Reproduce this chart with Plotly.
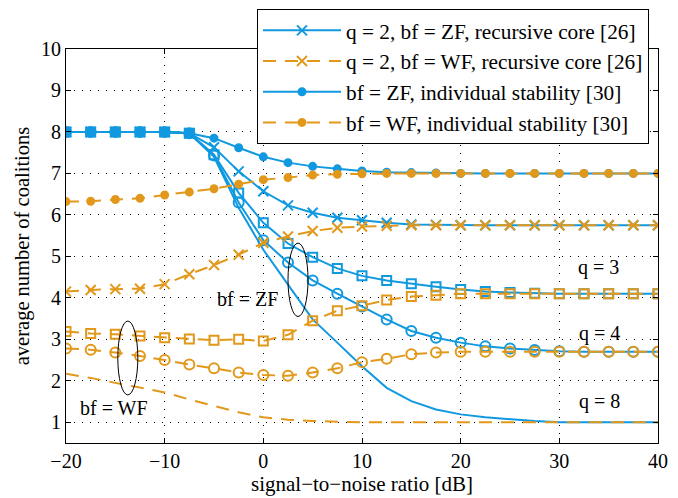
import plotly.graph_objects as go

# ---- data ----
snr_db = [-20, -17.5, -15, -12.5, -10, -7.5, -5, -2.5, 0, 2.5, 5, 7.5, 10,
          12.5, 15, 17.5, 20, 22.5, 25, 27.5, 30, 32.5, 35, 37.5, 40]

q2_zf_core = [8, 8, 8, 8, 8, 7.97, 7.63, 7.05, 6.57, 6.23, 6.05, 5.93, 5.87,
              5.81, 5.77, 5.76, 5.75, 5.75, 5.75, 5.75, 5.75, 5.75, 5.75, 5.75, 5.75]
q2_wf_core = [4.15, 4.19, 4.21, 4.22, 4.33, 4.57, 4.79, 5.04, 5.33, 5.48, 5.61, 5.69, 5.72,
              5.74, 5.75, 5.75, 5.75, 5.75, 5.75, 5.75, 5.75, 5.75, 5.75, 5.75, 5.75]
is_zf = [8, 8, 8, 8, 8, 7.97, 7.85, 7.62, 7.4, 7.26, 7.17, 7.11, 7.06,
         7.03, 7.02, 7.01, 7.0, 7.0, 7.0, 7.0, 7.0, 7.0, 7.0, 7.0, 7.0]
is_wf = [6.32, 6.33, 6.37, 6.4, 6.48, 6.55, 6.63, 6.74, 6.85, 6.9, 6.96, 6.98, 6.99,
         7.0, 7.0, 7.0, 7.0, 7.0, 7.0, 7.0, 7.0, 7.0, 7.0, 7.0, 7.0]
q3_zf = [8, 8, 8, 8, 8, 7.97, 7.45, 6.53, 5.81, 5.31, 4.98, 4.71, 4.53,
         4.42, 4.34, 4.27, 4.2, 4.15, 4.13, 4.11, 4.1, 4.1, 4.1, 4.1, 4.1]
q3_wf = [3.19, 3.14, 3.12, 3.08, 3.04, 3.01, 2.98, 3.0, 2.96, 3.11, 3.45, 3.69, 3.81,
         3.95, 4.03, 4.06, 4.1, 4.1, 4.1, 4.1, 4.1, 4.1, 4.1, 4.1, 4.1]
q4_zf = [8, 8, 8, 8, 8, 7.97, 7.43, 6.3, 5.39, 4.85, 4.42, 4.1, 3.79,
         3.48, 3.2, 3.04, 2.92, 2.83, 2.78, 2.74, 2.71, 2.7, 2.7, 2.7, 2.7]
q4_wf = [2.78, 2.75, 2.68, 2.6, 2.5, 2.39, 2.3, 2.2, 2.14, 2.12, 2.2, 2.3, 2.45,
         2.53, 2.64, 2.68, 2.7, 2.7, 2.7, 2.7, 2.7, 2.7, 2.7, 2.7, 2.7]
q8_zf = [8, 8, 8, 8, 8, 7.97, 7.4, 6.17, 5.16, 4.32, 3.48, 2.92, 2.35,
         1.83, 1.51, 1.31, 1.19, 1.12, 1.07, 1.03, 1.0, 1.0, 1.0, 1.0, 1.0]
q8_wf = [2.17, 2.07, 1.95, 1.83, 1.72, 1.55, 1.39, 1.24, 1.12, 1.06, 1.03, 1.01, 1.0,
         1.0, 1.0, 1.0, 1.0, 1.0, 1.0, 1.0, 1.0, 1.0, 1.0, 1.0, 1.0]

legend_names = [
    "q = 2, bf = ZF, recursive core [26]",
    "q = 2, bf = WF, recursive core [26]",
    "bf = ZF, individual stability [30]",
    "bf = WF, individual stability [30]",
]
x_ticks = [-20, -10, 0, 10, 20, 30, 40]
y_ticks = [1, 2, 3, 4, 5, 6, 7, 8, 9, 10]

BLUE = "#1199E0"
ORANGE = "#E2981A"
DASH = "13px,9px"
FONT = "Liberation Serif"

fig = go.Figure()


def add(y, color, dash, symbol, size, name=None, show=False, lw=2):
    mode = "lines" if symbol is None else "lines+markers"
    marker = None
    if symbol is not None:
        marker = dict(symbol=symbol, size=size, color=color,
                      line=dict(width=2, color=color))
    fig.add_trace(go.Scatter(
        x=snr_db, y=y, mode=mode, name=name, showlegend=show,
        line=dict(color=color, width=lw, dash=dash),
        marker=marker))


# blue (ZF) first, orange (WF) on top
add(q8_zf, BLUE, "solid", None, 0)
add(q4_zf, BLUE, "solid", "circle-open", 10)
add(q3_zf, BLUE, "solid", "square-open", 9)
add(q2_zf_core, BLUE, "solid", "x-thin-open", 10, legend_names[0], True)
add(is_zf, BLUE, "solid", "circle", 7, legend_names[2], True)
add(q8_wf, ORANGE, DASH, None, 0)
add(q4_wf, ORANGE, DASH, "circle-open", 10)
add(q3_wf, ORANGE, DASH, "square-open", 9)
add(q2_wf_core, ORANGE, DASH, "x-thin-open", 10, legend_names[1], True)
add(is_wf, ORANGE, DASH, "circle", 7, legend_names[3], True)

# legend order
order = {legend_names[0]: 1, legend_names[1]: 2, legend_names[2]: 3, legend_names[3]: 4}
for tr in fig.data:
    if tr.name in order:
        tr.legendrank = order[tr.name]

axis_common = dict(
    showline=True, linecolor="black", linewidth=1, mirror="allticks",
    ticks="inside", ticklen=5, tickcolor="black", tickwidth=1,
    showgrid=True, gridcolor="black", gridwidth=1, griddash="1px,7px",
    zeroline=False,
    tickfont=dict(family=FONT, size=20, color="black"),
)

fig.update_xaxes(range=[-20, 40], tickvals=x_ticks, **axis_common,
                 ticklabelstandoff=0,
                 title=dict(text="signal\u2212to\u2212noise ratio [dB]",
                            font=dict(family=FONT, size=21, color="black"),
                            standoff=4))
fig.update_yaxes(range=[0.5, 10], tickvals=y_ticks, **axis_common,
                 title=dict(text="average number of coalitions",
                            font=dict(family=FONT, size=20.5, color="black"),
                            standoff=5))

# ellipses
fig.add_shape(type="circle", xref="x", yref="y", x0=2.5, x1=4.53, y0=3.55, y1=5.32,
              line=dict(color="black", width=1))
fig.add_shape(type="circle", xref="x", yref="y", x0=-14.75, x1=-12.72, y0=1.66, y1=3.44,
              line=dict(color="black", width=1))

annots = [
    ("q = 3", 34.0, 4.72),
    ("q = 4", 34.1, 3.15),
    ("q = 8", 34.1, 1.49),
    ("bf = ZF", -1.64, 3.98),
    ("bf = WF", -15.13, 1.345),
]
for txt, ax_, ay_ in annots:
    fig.add_annotation(x=ax_, y=ay_, xref="x", yref="y", text=txt, showarrow=False,
                       font=dict(family=FONT, size=20, color="black"),
                       xanchor="center", yanchor="middle")

fig.update_layout(
    width=678, height=498,
    margin=dict(l=66, r=20, t=49, b=55, autoexpand=False),
    paper_bgcolor="white", plot_bgcolor="white",
    font=dict(family=FONT, size=20, color="black"),
    legend=dict(x=0.3226, y=1.1015, xanchor="left", yanchor="top",
                bgcolor="white", bordercolor="black", borderwidth=1,
                font=dict(family=FONT, size=21.3, color="black"),
                itemwidth=78, tracegroupgap=0),
)

# remove the default 8px page margin so the figure fills the window exactly
fig.write_html("out.html",
               config={"displayModeBar": False},
               post_script="document.body.style.margin='0';"
                           "document.body.style.overflow='hidden';")
